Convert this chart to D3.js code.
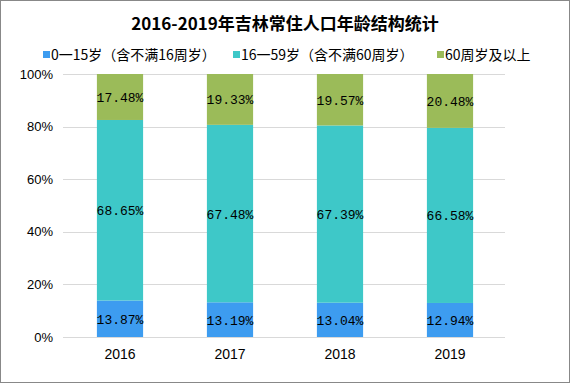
<!DOCTYPE html>
<html lang="zh">
<head>
<meta charset="UTF-8">
<title>2016-2019年吉林常住人口年龄结构统计</title>
<style>
  body { margin: 0; background: #fff; }
  #chart { width: 570px; height: 383px; }
  text { fill: #000; }
</style>
</head>
<body>
<div id="chart"></div>
<script src="https://d3js.org/d3.v7.min.js"></script>
<script>
// data
const years = ["2016", "2017", "2018", "2019"];
const seriesNames = ["0一15岁（含不满16周岁）", "16一59岁（含不满60周岁）", "60周岁及以上"];
const age0to15 = [13.87, 13.19, 13.04, 12.94];
const age16to59 = [68.65, 67.48, 67.39, 66.58];
const age60plus = [17.48, 19.33, 19.57, 20.48];
const yTicks = [0, 20, 40, 60, 80, 100];

const colors = ["#3d9cf0", "#3ec8c8", "#9bbb59"];
const cjk = "'Noto Sans CJK SC', 'Noto Sans', sans-serif";

const W = 570, H = 383;
const margin = {top: 74, right: 65, bottom: 46, left: 65};

const svg = d3.select("#chart").append("svg")
    .attr("width", W).attr("height", H);

// outer frame
svg.append("rect")
    .attr("x", 0.5).attr("y", 0.5)
    .attr("width", W - 1).attr("height", H - 1)
    .attr("fill", "#fff").attr("stroke", "#888");

// title
svg.append("text")
    .attr("x", 285).attr("y", 30)
    .attr("text-anchor", "middle")
    .style("font-family", cjk)
    .style("font-size", "17px")
    .style("font-weight", "bold")
    .text("2016-2019年吉林常住人口年龄结构统计");

// legend
const legendX = [43, 233, 437];
seriesNames.forEach((name, i) => {
  const g = svg.append("g").attr("transform", `translate(${legendX[i]},55)`);
  g.append("rect").attr("x", 0).attr("y", -4).attr("width", 7).attr("height", 7)
    .attr("fill", colors[i]);
  g.append("text").attr("x", 8).attr("y", 5)
    .style("font-family", cjk).style("font-size", "14px")
    .text(name);
});

const x = d3.scaleBand()
    .domain(years)
    .range([margin.left, W - margin.right])
    .paddingInner(0.58).paddingOuter(0.29);

const y = d3.scaleLinear()
    .domain([0, 100])
    .range([H - margin.bottom, margin.top]);

// gridlines
svg.append("g")
  .selectAll("line")
  .data(yTicks)
  .join("line")
    .attr("x1", 63).attr("x2", W - margin.right)
    .attr("y1", d => Math.round(y(d)) + 0.5)
    .attr("y2", d => Math.round(y(d)) + 0.5)
    .attr("stroke", "#d9d9d9");

// y axis labels
const yAxis = svg.append("g")
    .attr("transform", "translate(53,0)")
    .call(d3.axisLeft(y).tickValues(yTicks).tickFormat(d => d + "%").tickSize(0).tickPadding(0));
yAxis.select(".domain").remove();
yAxis.selectAll("text")
    .style("font-family", "'Liberation Sans', sans-serif")
    .style("font-size", "13px")
    .attr("fill", "#000");

// x axis labels
const xAxis = svg.append("g")
    .attr("transform", `translate(0,${H - margin.bottom})`)
    .call(d3.axisBottom(x).tickSize(0).tickPadding(12));
xAxis.select(".domain").remove();
xAxis.selectAll("text")
    .style("font-family", "'Liberation Sans', sans-serif")
    .style("font-size", "14px")
    .attr("fill", "#000");

// stacked bars
const rows = years.map((yr, i) => ({year: yr, s0: age0to15[i], s1: age16to59[i], s2: age60plus[i]}));
const stacked = d3.stack().keys(["s0", "s1", "s2"])(rows);

stacked.forEach((layer, li) => {
  const g = svg.append("g");
  g.selectAll("rect")
    .data(layer)
    .join("rect")
      .attr("x", d => x(d.data.year))
      .attr("width", x.bandwidth())
      .attr("y", d => y(d[1]))
      .attr("height", d => y(d[0]) - y(d[1]))
      .attr("fill", colors[li]);
  g.selectAll("text")
    .data(layer)
    .join("text")
      .attr("x", d => x(d.data.year) + x.bandwidth() / 2)
      .attr("y", d => y((d[0] + d[1]) / 2) + 5)
      .attr("text-anchor", "middle")
      .style("font-family", "'Liberation Mono', monospace")
      .style("font-size", "13px")
      .text(d => (d[1] - d[0]).toFixed(2) + "%");
});
</script>
</body>
</html>
